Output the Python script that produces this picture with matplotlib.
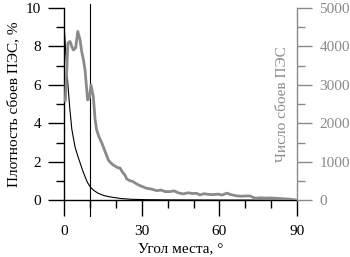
import matplotlib
matplotlib.use("Agg")
import matplotlib.pyplot as plt
from matplotlib.ticker import MultipleLocator

plt.rcParams['font.family'] = ['Liberation Serif', 'DejaVu Serif']
plt.rcParams['font.size'] = 11

GRAY = '#8a8a8a'

# плотность сбоев, % (левая ось)
dens_angle = [0.2, 0.8, 1.5, 2.2, 3.0, 4.2, 5.2, 6.2, 7.2, 8.1, 9.0, 10.0, 11.5,
              13.2, 15.5, 18.4, 22.0, 26.1, 32.0, 40.0, 50.0, 60.0, 70.0, 80.0, 90.0]
dens_value = [8.7, 7.4, 6.0, 4.8, 3.7, 2.8, 2.35, 1.95, 1.55, 1.24, 0.95, 0.72, 0.52,
              0.37, 0.25, 0.17, 0.1, 0.06, 0.04, 0.03, 0.025, 0.02, 0.02, 0.015, 0.01]

# число сбоев (правая ось)
cnt_angle = [0.5, 1.0, 1.5, 2.3, 3.0, 3.6, 4.5, 5.3, 6.2, 6.8, 7.5, 8.1, 8.6, 9.1,
             9.8, 10.4, 11.3, 12.0, 12.6, 13.5, 14.6, 15.8, 17.1, 18.0, 19.0, 20.0,
             20.9, 21.6, 22.5, 23.5, 24.2, 25.2, 26.6, 28.0, 29.5, 31.9, 33.5, 35.8,
             37.5, 39.0, 40.9, 42.5, 44.0, 46.0, 48.0, 49.5, 51.2, 52.5, 54.0, 55.6,
             57.5, 59.5, 61.0, 62.8, 64.5, 66.5, 68.5, 70.0, 71.8, 73.8, 76.0, 78.0,
             79.6, 82.0, 84.5, 87.3, 89.2]
cnt_value = [2600, 3300, 4090, 4130, 4000, 3910, 3965, 4390, 4170, 3870, 3650, 3390, 3000, 2610,
             2665, 3000, 2700, 2090, 1830, 1650, 1490, 1280, 1050, 980, 920, 880,
             845, 845, 740, 660, 560, 520, 490, 430, 380, 315, 300, 255,
             270, 230, 230, 250, 200, 170, 200, 180, 185, 143, 175, 160,
             150, 165, 140, 190, 150, 120, 110, 117, 117, 57, 70, 60,
             65, 55, 45, 31, 13]

fig = plt.figure(figsize=(3.5, 2.57), dpi=100)
ax = fig.add_axes([0.183, 0.22, 0.666, 0.749])
ax2 = ax.twinx()

ax.plot(dens_angle, dens_value, color='black', lw=0.8, zorder=3)
ax2.plot(cnt_angle, cnt_value, color=GRAY, lw=2.0, zorder=2)
ax.plot([10, 10], [-0.8, 10.2], color='black', lw=0.8, clip_on=False)

ax.set_xlim(0, 90)
ax.set_ylim(0, 10)
ax2.set_ylim(0, 5000)

ax.xaxis.set_major_locator(MultipleLocator(30))
ax.xaxis.set_minor_locator(MultipleLocator(10))
ax.yaxis.set_major_locator(MultipleLocator(2))
ax.yaxis.set_minor_locator(MultipleLocator(1))
ax2.yaxis.set_major_locator(MultipleLocator(1000))
ax2.yaxis.set_minor_locator(MultipleLocator(500))

for a in (ax, ax2):
    a.spines['top'].set_visible(False)
    a.patch.set_visible(False)
ax.spines['right'].set_visible(False)
ax2.spines['left'].set_visible(False)
ax2.spines['bottom'].set_visible(False)
ax.spines['left'].set_linewidth(1.0)
ax.spines['bottom'].set_linewidth(1.0)
ax2.spines['right'].set_color(GRAY)
ax2.spines['right'].set_linewidth(1.0)

ax.tick_params(which='major', direction='out', length=11.5, width=1.0, pad=5)
ax.tick_params(axis='x', which='major', pad=6)
ax.tick_params(which='minor', direction='out', length=5.5, width=1.0)
ax2.tick_params(which='major', direction='out', length=11, width=1.0, pad=5,
                color=GRAY, labelcolor=GRAY)
ax2.tick_params(which='minor', direction='out', length=6, width=1.0, color=GRAY)

ax.set_xlabel('Угол места, °', labelpad=3)
ax.set_ylabel('Плотность сбоев ПЭС, %', labelpad=4)
ax.text(0.937, 0.5, 'Число сбоев ПЭС', transform=ax.transAxes, rotation=90,
        ha='center', va='center', color=GRAY)

fig.savefig('out.png', dpi=100)
